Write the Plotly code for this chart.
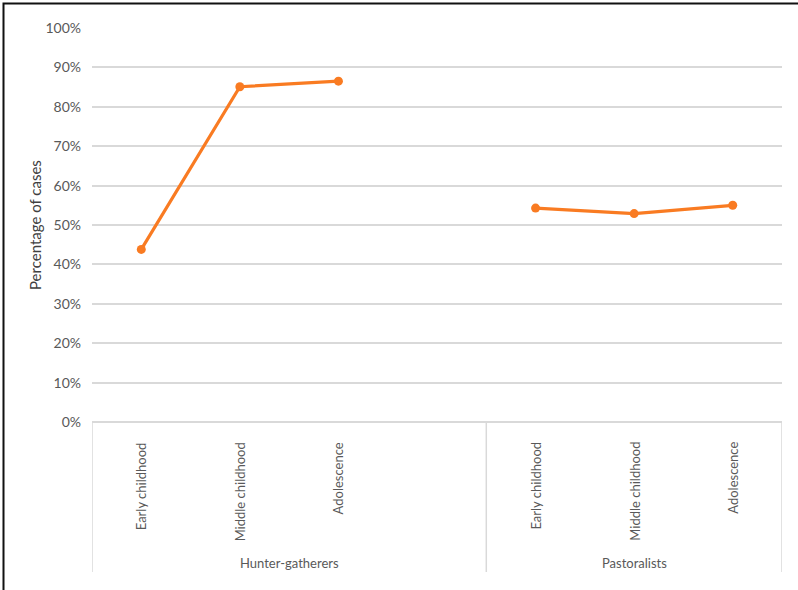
import plotly.graph_objects as go

# Age stages per subsistence group, and share of cases (%)
stages = ["Early childhood", "Middle childhood", "Adolescence"]
groups = ["Hunter-gatherers", "Pastoralists"]
hunter_gatherers = [43.8, 85.1, 86.5]
pastoralists = [54.3, 52.9, 55.0]
y_ticks = [0, 10, 20, 30, 40, 50, 60, 70, 80, 90, 100]
y_tick_labels = [f"{v}%" for v in y_ticks]

ORANGE = "#F97B22"
GRID = "#D9D9D9"
TEXT = "#595959"
FONT = "Lato"

# Category slots: group 1 uses slots 1-3 (+ an empty slot 4), group 2 uses 5-7
hg_x = [1, 2, 3]
pa_x = [5, 6, 7]

W, H = 798, 590
L, R, T, B = 92, 16, 28, 168
plot_w = W - L - R
plot_h = H - T - B

fig = go.Figure()
for xs, ys in ((hg_x, hunter_gatherers), (pa_x, pastoralists)):
    fig.add_trace(go.Scatter(
        x=xs, y=ys, mode="lines+markers",
        line=dict(color=ORANGE, width=3.2),
        marker=dict(color=ORANGE, size=9),
        showlegend=False, hoverinfo="skip",
    ))

annotations = []
# Rotated stage labels under each category slot
for xs in (hg_x, pa_x):
    for xv, name in zip(xs, stages):
        annotations.append(dict(
            x=xv, y=0, xref="x", yref="y", text=name, textangle=-90,
            showarrow=False, xanchor="center", yanchor="top", yshift=-18,
            font=dict(family=FONT, size=13, color=TEXT),
        ))
# Group labels
for xc, g in ((2.5, groups[0]), (6.0, groups[1])):
    annotations.append(dict(
        x=xc, y=0, xref="x", yref="y", text=g, showarrow=False,
        xanchor="center", yanchor="middle", yshift=-(563 - 422),
        font=dict(family=FONT, size=13, color=TEXT),
    ))
# Y axis title
annotations.append(dict(
    x=0, y=0.5, xref="paper", yref="paper", text="Percentage of cases",
    textangle=-90, showarrow=False, xanchor="center", yanchor="middle",
    xshift=-57, font=dict(family=FONT, size=15, color="#404040"),
))

# Group divider lines of the category axis
bottom_paper = -(572 - 422) / plot_h
shapes = []
for xv in (0.5, 4.5, 7.5):
    shapes.append(dict(
        type="line", xref="x", yref="paper", x0=xv, x1=xv,
        y0=0, y1=bottom_paper, line=dict(color=GRID, width=1.5),
    ))
# Frame along the left and top edges
fx = (3.5 - L) / plot_w
fy = (H - B - 3.5) / plot_h
shapes.append(dict(
    type="path", xref="paper", yref="paper",
    path=f"M {fx},{-B / plot_h} L {fx},{fy} L {(W - L) / plot_w},{fy}",
    line=dict(color="#111111", width=2),
))

fig.update_layout(
    width=W, height=H,
    margin=dict(l=L, r=R, t=T, b=B),
    paper_bgcolor="white", plot_bgcolor="white",
    xaxis=dict(range=[0.5, 7.5], showgrid=False, showticklabels=False,
               zeroline=False, showline=False, fixedrange=True),
    yaxis=dict(range=[0, 100], tickmode="array", tickvals=y_ticks,
               ticktext=y_tick_labels,
               showgrid=True, gridcolor=GRID, gridwidth=1.5,
               zeroline=True, zerolinecolor=GRID, zerolinewidth=1.5,
               showline=False, ticks="", ticklabelstandoff=10,
               tickfont=dict(family=FONT, size=14, color=TEXT),
               fixedrange=True),
    annotations=annotations,
    shapes=shapes,
)

fig.write_html("out.html")
